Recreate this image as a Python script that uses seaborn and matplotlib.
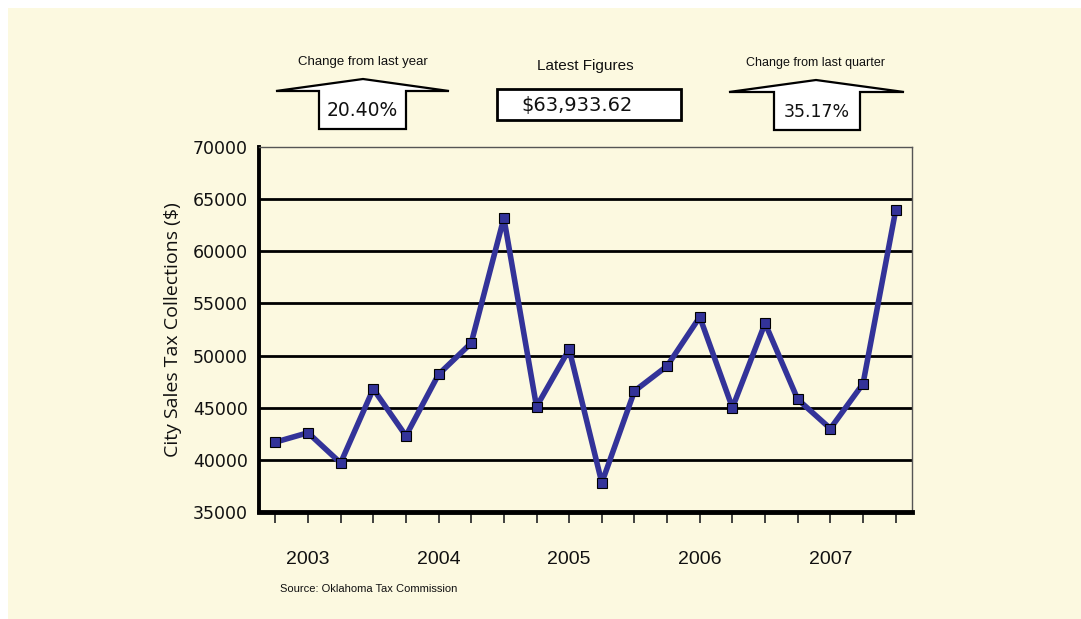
import numpy as np
import pandas as pd
import matplotlib
matplotlib.use("Agg")
import matplotlib.pyplot as plt
import matplotlib.transforms as mtransforms
from matplotlib.patches import Polygon, Rectangle
import seaborn as sns

# quarterly city sales tax collections, 2003 Q1 .. 2007 Q4
quarters = list(range(20))
collections = [41700, 42600, 39700, 46800, 42300, 48200, 51200, 63200,
               45100, 50600, 37800, 46600, 49000, 53700, 45000, 53100,
               45800, 43000, 47300, 63933.62]
years = ["2003", "2004", "2005", "2006", "2007"]
year_label_quarter = [1, 5, 9, 13, 17]
y_ticks = [35000, 40000, 45000, 50000, 55000, 60000, 65000, 70000]

latest_figure = "$63,933.62"
change_year = "20.40%"
change_quarter = "35.17%"

bg = "#FCF9E0"
line_color = "#333399"

df = pd.DataFrame({"quarter": quarters, "collections": collections})

sns.set_theme(style="white")
plt.rcParams["font.family"] = ["DejaVu Sans"]

W, H = 1081, 619
fig = plt.figure(figsize=(W / 100, H / 100), dpi=100)
fig.patch.set_facecolor("white")
fig.patches.append(Rectangle((8 / W, 0), 1 - 8 / W, 1 - 8 / H, transform=fig.transFigure,
                             facecolor=bg, edgecolor="none", zorder=-10))

ax = fig.add_axes([259 / W, 1 - 512 / H, (912 - 259) / W, (512 - 147) / H])
ax.set_facecolor(bg)

for v in y_ticks[1:-1]:
    ax.axhline(v, color="black", lw=2, zorder=1)

sns.lineplot(data=df, x="quarter", y="collections", ax=ax, color=line_color,
             lw=4, marker="s", markersize=6.5, markerfacecolor=line_color,
             markeredgecolor="black", markeredgewidth=0.8, zorder=3)

ax.set_xlim(-0.5, 19.5)
ax.set_ylim(35000, 70000)
ax.set_yticks(y_ticks)
ax.set_yticklabels([str(v) for v in y_ticks], fontsize=12.5, color="#111111")
ax.set_xticks(quarters)
ax.set_xticklabels([])
ax.tick_params(axis="x", which="major", direction="out", length=8, width=1.3,
               color="#333333", bottom=True)
ax.tick_params(axis="y", length=0, pad=8)
ax.set_xlabel("")
ax.set_ylabel("City Sales Tax Collections ($)", fontsize=14, family="Open Sans",
              color="#111111", labelpad=8)

ax.spines["left"].set_linewidth(2.8)
ax.spines["left"].set_color("black")
ax.spines["bottom"].set_linewidth(3.5)
ax.spines["bottom"].set_color("black")
for s in ["top", "right"]:
    ax.spines[s].set_linewidth(1)
    ax.spines[s].set_color("#555555")

trans = mtransforms.blended_transform_factory(ax.transData, fig.transFigure)
for q, yr in zip(year_label_quarter, years):
    ax.text(q, 1 - 560 / H, yr, transform=trans, ha="center", va="center",
            fontsize=14, family="Liberation Sans", color="#111111")

fig.text(280 / W, 1 - 589 / H, "Source: Oklahoma Tax Commission", ha="left", va="center",
         fontsize=8, family="Liberation Sans", color="#111111")


def px(x, y):
    return (x / W, 1 - y / H)


def arrow_box(left, peak, right, base_y, peak_y, box_l, box_r, box_b, title, title_y,
              title_size, value, value_size):
    pts = [(left, base_y), (peak, peak_y), (right, base_y), (box_r, base_y),
           (box_r, box_b), (box_l, box_b), (box_l, base_y)]
    fig.patches.append(Polygon([px(*p) for p in pts], closed=True, transform=fig.transFigure,
                               facecolor="white", edgecolor="black", lw=1.6))
    fig.text(*px(peak, title_y), title, ha="center", va="center", fontsize=title_size,
             family="Liberation Sans", color="#111111")
    fig.text(*px((box_l + box_r) / 2, (base_y + box_b) / 2 + 1), value, ha="center",
             va="center", fontsize=value_size, color="#111111")


arrow_box(276, 363, 449, 91, 79, 319, 406, 129, "Change from last year", 62, 9.5,
          change_year, 13.5)
arrow_box(729, 816, 904, 92, 80, 774, 860, 130, "Change from last quarter", 63, 9,
          change_quarter, 12.5)

fig.patches.append(Rectangle(px(497, 120), (681 - 497) / W, (120 - 89) / H,
                             transform=fig.transFigure, facecolor="white",
                             edgecolor="black", lw=2))
fig.text(*px(585, 66), "Latest Figures", ha="center", va="center", fontsize=11,
         family="Liberation Sans", color="#111111")
fig.text(*px(577, 105), latest_figure, ha="center", va="center", fontsize=14,
         color="#111111")

fig.savefig("out.png", dpi=100, facecolor=fig.get_facecolor())
